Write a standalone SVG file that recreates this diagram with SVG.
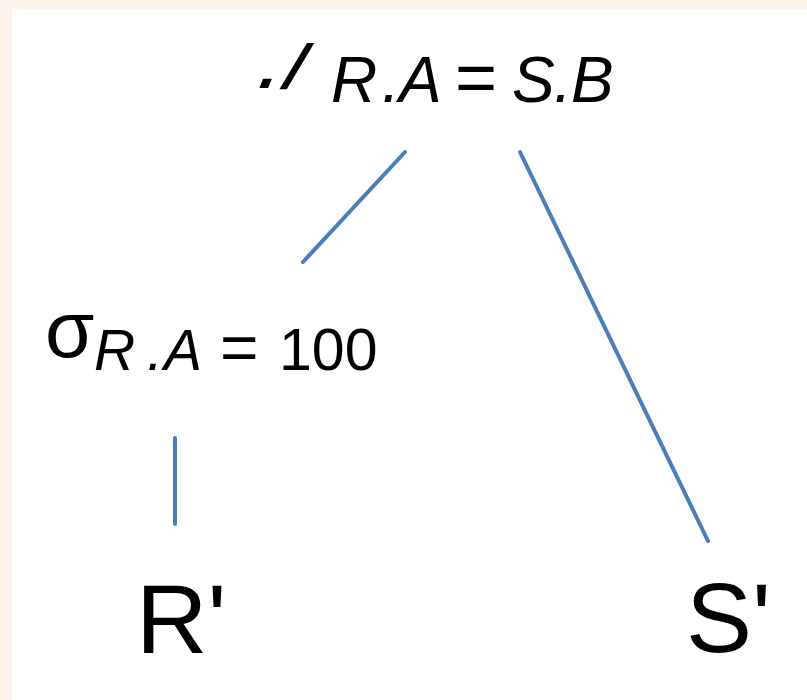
<svg xmlns="http://www.w3.org/2000/svg" width="807" height="700" viewBox="0 0 807 700">
<style>
.t{font-family:"Liberation Sans",Arial,sans-serif;fill:#000}
.i{font-style:italic}
.e{stroke:#4a7ebb;stroke-width:4;stroke-linecap:round;fill:none}
</style>
<rect x="0" y="0" width="807" height="700" fill="#fdf3e8"/>
<rect x="12" y="9" width="795" height="691" fill="#ffffff"/>
<g id="connectors">
<line class="e" x1="405" y1="152" x2="303" y2="262"/>
<line class="e" x1="520" y1="152" x2="708" y2="541"/>
<line class="e" x1="175" y1="438" x2="175" y2="524"/>
</g>
<g id="node-join">
<text class="t i" font-size="62" font-weight="bold" transform="translate(258,88) skewX(-12)">.<tspan x="24">/</tspan></text>
<text class="t" y="102" font-size="64"><tspan class="i" x="331">R</tspan><tspan class="i" x="382">.</tspan><tspan class="i" x="399">A</tspan><tspan x="455" font-size="72">=</tspan><tspan class="i" x="512">S</tspan><tspan class="i" x="554">.</tspan><tspan class="i" x="571">B</tspan></text>
</g>
<g id="node-select">
<text class="t" x="45" y="357" font-size="80">σ</text>
<text class="t" y="370" font-size="57"><tspan class="i" x="94">R</tspan><tspan class="i" x="147">.</tspan><tspan class="i" x="164">A</tspan><tspan x="220" font-size="66">=</tspan><tspan x="279" font-size="59">100</tspan></text>
</g>
<g id="node-r">
<text class="t" x="136" y="653" font-size="99">R'</text>
</g>
<g id="node-s">
<text class="t" x="686" y="652" font-size="99">S'</text>
</g>
</svg>
